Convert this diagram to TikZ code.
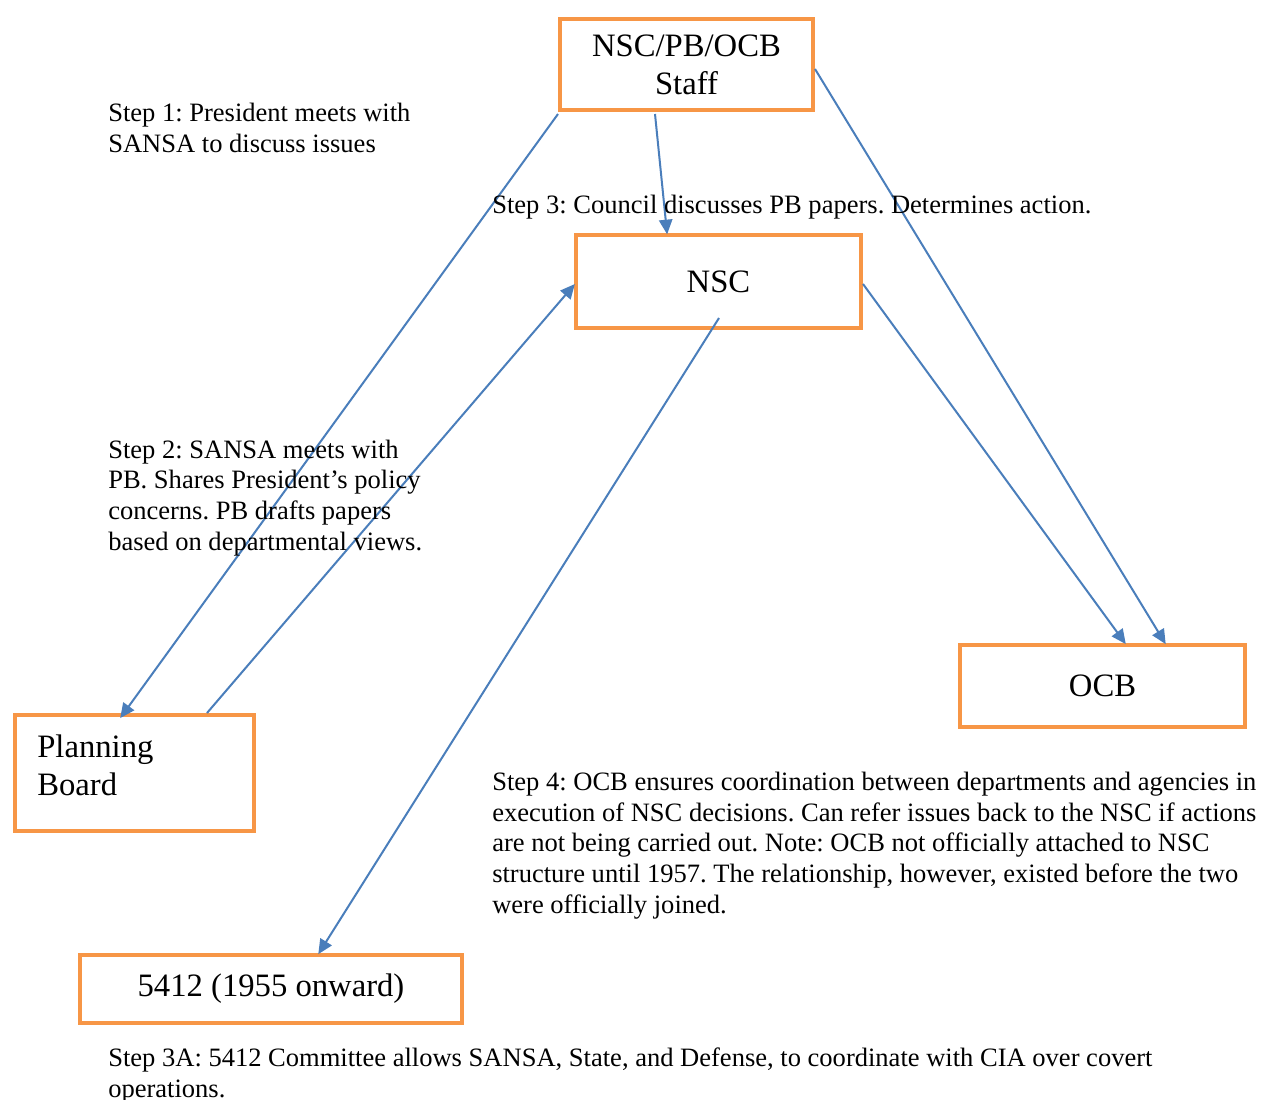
\documentclass[tikz,border=0pt]{standalone}
\usepackage{fontspec}
\setmainfont{Liberation Serif}
\usetikzlibrary{arrows.meta,calc}
\definecolor{boxorange}{RGB}{247,150,70}
\definecolor{arrowblue}{RGB}{74,126,187}
\tikzset{
  orgbox/.style={draw=boxorange, line width=3pt, fill=white, inner sep=0pt,
    font=\fontsize{24.5}{28.5}\selectfont, align=center},
  link/.style={draw=arrowblue, line width=1.5pt,
    -{Triangle[length=11pt,width=10pt]}, shorten >=-1pt},
  steptext/.style={anchor=base west, inner sep=0pt, align=left,
    font=\fontsize{19.9}{23}\selectfont\frenchspacing},
}
\begin{document}
\begin{tikzpicture}[x=0.75pt,y=-0.75pt]
\useasboundingbox (0,0) rectangle (1266,1099);
% boxes
\node[orgbox, minimum width=189.75pt, minimum height=68.25pt] (staff) at (686.5,64.5) {NSC/PB/OCB\\Staff};
\node[orgbox, minimum width=213.75pt, minimum height=69.75pt] (nsc) at (718.5,281.5) {NSC};
\node[orgbox, minimum width=213.75pt, minimum height=61.5pt] (ocb) at (1102.5,686) {OCB};
\node[orgbox, minimum width=179.25pt, minimum height=87pt] (pb) at (134.5,773) {};
\node[anchor=base west, inner sep=0pt, align=left, font=\fontsize{24.5}{28.5}\selectfont] (pbtext) at (37,795) {Planning\\Board};
\node[orgbox, minimum width=286.5pt, minimum height=51pt] (k5412) at (271,989) {5412 (1955 onward)};
% connectors
\coordinate (s1) at ($(staff.south west)+(0,2)$);
\coordinate (e1) at ($(pb.north)+(-13.5,4)$);
\draw[link] (s1) -- (e1);
\coordinate (s2) at ($(pb.north)+(72.5,0)$);
\coordinate (e2) at ($(nsc.west)+(0,3.5)$);
\draw[link] (s2) -- (e2);
\coordinate (s3) at ($(staff.south)+(-31.5,2)$);
\coordinate (e3) at ($(nsc.north)+(-51.5,0)$);
\draw[link] (s3) -- (e3);
\coordinate (s4) at ($(staff.east)+(0,4.5)$);
\coordinate (e4) at ($(ocb.north)+(62.5,0)$);
\draw[link] (s4) -- (e4);
\coordinate (s5) at ($(nsc.east)+(0,2.5)$);
\coordinate (e5) at ($(ocb.north)+(22.5,0)$);
\draw[link] (s5) -- (e5);
\coordinate (s6) at ($(nsc.center)+(0.5,36.5)$);
\coordinate (e6) at ($(k5412.north)+(48,0)$);
\draw[link] (s6) -- (e6);
% step texts (anchored at the baseline of their last line)
\node[steptext] (t1) at (108,152) {Step 1: President meets with\\SANSA to discuss issues};
\node[steptext] (t3) at (492,213) {Step 3: Council discusses PB papers. Determines action.};
\node[steptext] (t2) at (108,550) {Step 2: SANSA meets with\\PB. Shares President’s policy\\concerns. PB drafts papers\\based on departmental views.};
\node[steptext] (t4) at (492,913) {Step 4: OCB ensures coordination between departments and agencies in\\execution of NSC decisions. Can refer issues back to the NSC if actions\\are not being carried out. Note: OCB not officially attached to NSC\\structure until 1957. The relationship, however, existed before the two\\were officially joined.};
\node[steptext] (t3a) at (108,1097) {Step 3A: 5412 Committee allows SANSA, State, and Defense, to coordinate with CIA over covert\\operations.};
\end{tikzpicture}
\end{document}
